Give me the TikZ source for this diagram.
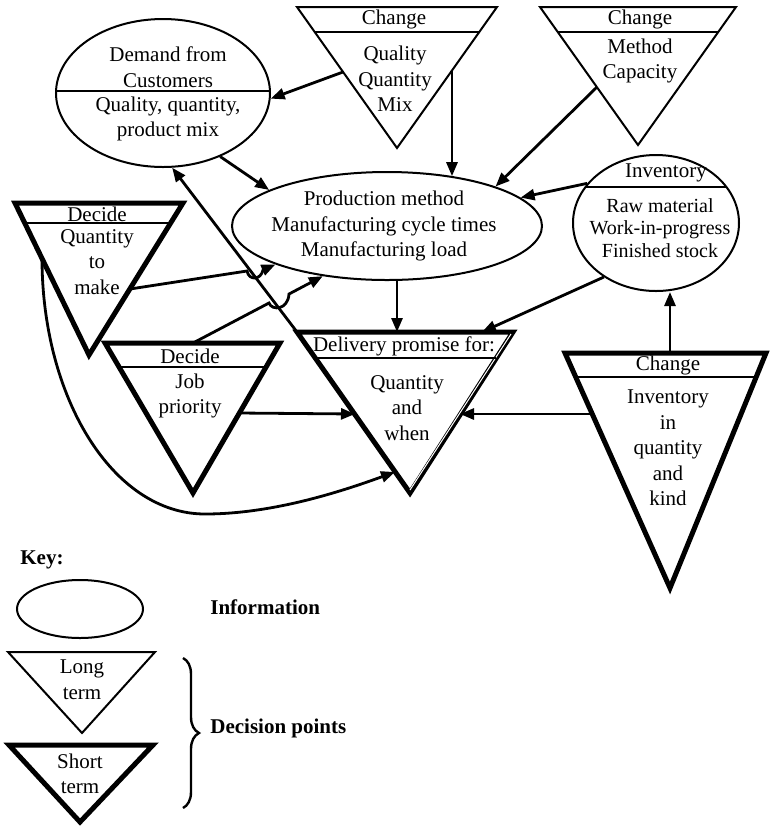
\documentclass[tikz,border=0pt]{standalone}
\usepackage{fontspec}
\setmainfont{Liberation Serif}
\usetikzlibrary{shapes.geometric,arrows.meta,decorations.pathreplacing}
\begin{document}
\begin{tikzpicture}[x=0.5pt,y=-0.5pt,
  txt/.style={align=center,inner sep=0pt,font=\fontsize{10.5pt}{12.8pt}\selectfont},
  tighttxt/.style={align=center,inner sep=0pt,font=\fontsize{10pt}{11.3pt}\selectfont},
  keytxt/.style={inner sep=0pt,font=\fontsize{10.5pt}{12.8pt}\selectfont\bfseries},
  info/.style={draw,ellipse,line width=1pt,inner sep=0pt},
  longdec/.style={draw,line width=1pt,line join=miter},
  shortdec/.style={draw,line width=2.5pt,line join=miter},
  divider/.style={line width=0.9pt},
  flow/.style={line width=1.4pt,-{Triangle[length=7pt,width=5.5pt]}},
]
\useasboundingbox (0,0) rectangle (770,827);

% ---------- information ellipses ----------
\node[info,minimum width=107pt,minimum height=74pt] (dem) at (163,93) {};
\node[info,minimum width=155pt,minimum height=54pt] (prod) at (387,226) {};
\node[info,minimum width=83pt,minimum height=68pt] (inv) at (656,223) {};
\draw[divider] (56.2,91) -- (269.8,91);
\draw[divider] (586,187) -- (726,187);

\node[txt] (demhead) at (168,67) {Demand from\\Customers};
\node[txt] (dembody) at (168,119) {Quality, quantity,\\product mix};
\node[txt] (prodtext) at (384,226) {Production method\\Manufacturing cycle times\\Manufacturing load};
\node[txt] (invhead) at (666,173) {Inventory};
\node[tighttxt] (invbody) at (660,228) {Raw material\\Work-in-progress\\Finished stock};

% ---------- long-term decision points ----------
\draw[longdec] (297,7) -- (497,7) -- (397,148) -- cycle;
\draw[divider] (314.7,32) -- (479.3,32);
\node[txt] (qhead) at (394,19) {Change};
\node[txt] (qbody) at (395,79) {Quality\\Quantity\\Mix};

\draw[longdec] (540,7) -- (736,7) -- (638,145) -- cycle;
\draw[divider] (557.8,32) -- (718.2,32);
\node[txt] (mhead) at (640,19) {Change};
\node[txt] (mbody) at (640,61) {Method\\Capacity};

% ---------- short-term decision points ----------
\draw[shortdec] (15,203) -- (183,203) -- (89,355) -- cycle;
\draw[divider] (24.7,223) -- (170.6,223);
\node[txt] (qmhead) at (97,214) {Decide};
\node[txt] (qmbody) at (97,262) {Quantity\\to\\make};

\draw[shortdec] (105,343) -- (280,343) -- (193,493) -- cycle;
\draw[divider] (119.1,367) -- (266.1,367);
\node[txt] (jphead) at (190,356) {Decide};
\node[txt] (jpbody) at (190,396) {Job\\priority};

\draw[shortdec] (297,332) -- (513,332) -- (410,493) -- cycle;
\draw[white,line width=0.5pt] (511,334) -- (410,490);
\draw[divider] (315.2,358) -- (496.4,358);
\node[txt] (dhead) at (404,346) {Delivery promise for:};
\node[txt] (dbody) at (407,408) {Quantity\\and\\when};

\draw[shortdec] (565,353) -- (766,353) -- (670,588) -- cycle;
\draw[divider] (575.7,377) -- (756,377);
\node[txt] (cihead) at (668,365) {Change};
\node[txt] (cibody) at (668,448) {Inventory\\in\\quantity\\and\\kind};

% ---------- connector end points on triangle edges ----------
\coordinate (qL) at (343,72);
\coordinate (qR) at (452,70);
\coordinate (mL) at (597,87);
\coordinate (qmR) at (130,289);
\coordinate (qmL) at (42,258);
\coordinate (jpT) at (193,343);
\coordinate (jpR) at (239,413);
\coordinate (dTL) at (297,332);
\coordinate (dTop) at (397,332);
\coordinate (dTR) at (482,332);
\coordinate (dL) at (355,414);
\coordinate (dR) at (460,414);
\coordinate (dLB) at (395,472);
\coordinate (ciT) at (670,353);
\coordinate (ciL) at (593,414);
% line hops where connectors cross
\coordinate (h1a) at (247,271);
\coordinate (h1b) at (263,270);
\coordinate (h2a) at (269,303);
\coordinate (h2b) at (289,294);

% ---------- connectors ----------
\draw[flow] (qL) -- (dem.-3);
\draw[flow] (qR) -- (qR |- prod.37);
\draw[flow] (mL) -- (prod.20);
\draw[flow] (inv.150) -- (prod.12);
\draw[flow] (dem.-48) -- (prod.163);
\draw[flow] (dTL) -- (dem.-83);
\draw[flow] (dTop |- prod.south) -- (dTop);
\draw[flow] (inv.226) -- (dTR);
\draw[flow] (ciT) -- (ciT |- inv.south);
\draw[flow] (ciL) -- (dR);
\draw[flow] (jpR) -- (dL);
\draw[flow] (qmR) -- (h1a) .. controls (249,281) and (261,280) .. (h1b) -- (prod.199);
\draw[flow] (jpT) -- (h2a) .. controls (272,311) and (288,310) .. (h2b) -- (prod.218);
\draw[flow] (qmL) .. controls (42,398) and (113,514) .. (205,514)
                  .. controls (272,514) and (340,492) .. (dLB);

% ---------- key ----------
\node[keytxt,anchor=west] (keylabel) at (20,560) {Key:};
\node[info,minimum width=63pt,minimum height=29pt] (keyinfo) at (80,609) {};
\node[keytxt,anchor=west] (infolabel) at (210,607) {Information};

\draw[longdec] (8,652) -- (155,652) -- (82,733) -- cycle;
\node[txt] (longlabel) at (82,680) {Long\\term};
\draw[shortdec] (9,745) -- (153,745) -- (80,822) -- cycle;
\node[txt] (shortlabel) at (80,774) {Short\\term};

\draw[line width=1.2pt,decorate,decoration={brace,amplitude=8pt}] (183,658) -- (183,808);
\node[keytxt,anchor=west] (decpts) at (210,728) {Decision points};
\end{tikzpicture}
\end{document}
